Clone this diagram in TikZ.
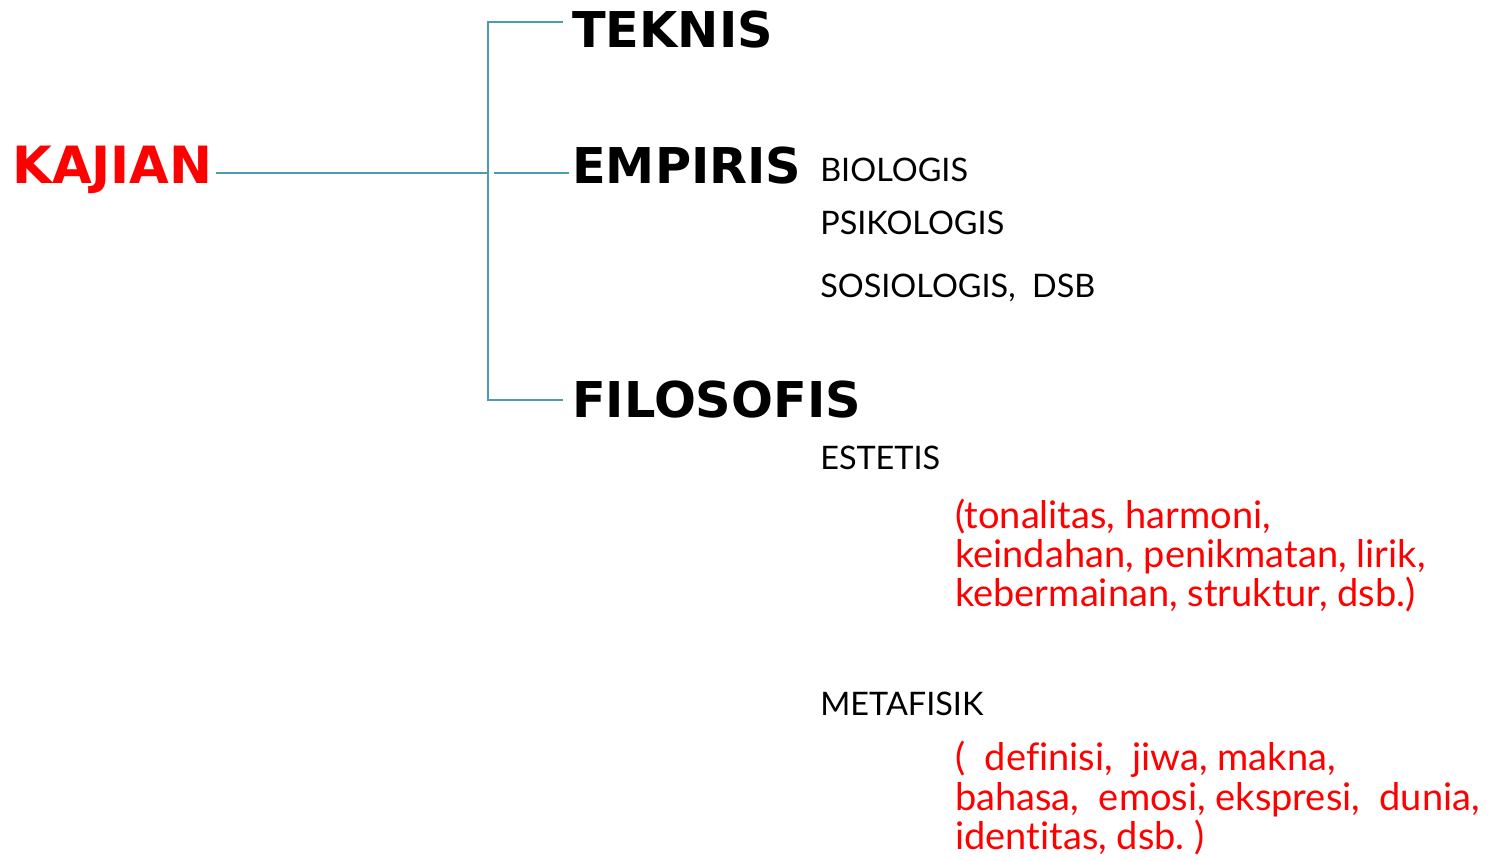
\documentclass[tikz,border=0pt]{standalone}
\usepackage{fontspec}
\newfontfamily\headfont{DejaVu Sans}
\newfontfamily\bodyfont{Lato}[Ligatures=NoCommon]
\definecolor{linecol}{RGB}{75,155,178}
\definecolor{redtxt}{RGB}{255,0,0}
\begin{document}
\begin{tikzpicture}[x=0.75pt,y=-0.75pt,
  head/.style={anchor=base west,inner sep=0pt,font=\headfont\bfseries\fontsize{37}{44}\selectfont},
  sub/.style={anchor=base west,inner sep=0pt,font=\bodyfont\fontsize{24.3}{28}\selectfont},
  note/.style={anchor=base west,inner sep=0pt,text=redtxt,font=\bodyfont\fontsize{28.5}{32}\selectfont},
  conn/.style={draw=linecol,line width=1.1pt}]
\useasboundingbox[fill=white] (0,0) rectangle (1509,860);
% main nodes
\node[head,text=redtxt,font=\headfont\bfseries\fontsize{38.5}{44}\selectfont] (kajian) at (12,183) {KAJIAN};
\node[head] (teknis) at (572,47) {TEKNIS};
\node[head] (empiris) at (572,183) {EMPIRIS};
\node[head] (filosofis) at (572,417) {FILOSOFIS};
% sub items
\node[sub] (bio) at (820,181) {BIOLOGIS};
\node[sub] (psi) at (820,234) {PSIKOLOGIS};
\node[sub] (sos) at (820,297) {SOSIOLOGIS,\ \ DSB};
\node[sub] (est) at (820,469) {ESTETIS};
\node[sub] (meta) at (820,715) {METAFISIK};
% notes
\node[note] (e1) at (955,528) {(tonalitas, harmoni,};
\node[note] (e2) at (955,567) {keindahan, penikmatan, lirik,};
\node[note] (e3) at (955,606) {kebermainan, struktur, dsb.)};
\node[note] (m1) at (955,770) {(\ \ definisi,\ \ jiwa, makna,};
\node[note] (m2) at (955,810) {bahasa,\ \ emosi, ekspresi,\ \ dunia,};
\node[note] (m3) at (955,849) {identitas, dsb.\ )};
% connector coordinates
\coordinate (k0) at (216,173);
\coordinate (j0) at (487,173);
\coordinate (vt) at (488,22);
\coordinate (vb) at (488,400);
\coordinate (tt) at (563,22);
\coordinate (m0) at (494,173);
\coordinate (mt) at (569,173);
\coordinate (ft) at (563,400);
\draw[conn] (k0) -- (j0);
\draw[conn] (tt) -- (vt) -- (vb) -- (ft);
\draw[conn] (m0) -- (mt);
\end{tikzpicture}
\end{document}
